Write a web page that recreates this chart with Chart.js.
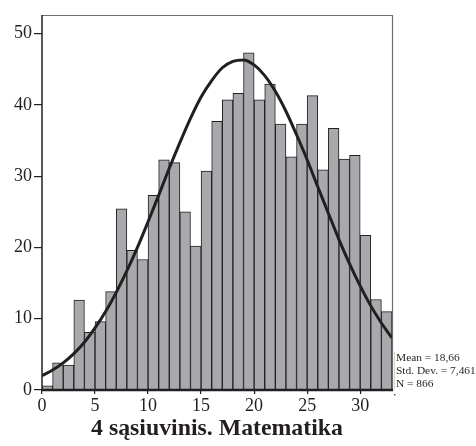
<!DOCTYPE html>
<html>
<head>
<meta charset="utf-8">
<script src="https://cdn.jsdelivr.net/npm/chart.js@4.4.1/dist/chart.umd.min.js"></script>
<style>
html,body{margin:0;padding:0;background:#fff;}
#wrap{width:476px;height:446px;}
</style>
</head>
<body>
<div id="wrap"><canvas id="c" width="476" height="446"></canvas></div>
<script>
// Histogram bins: score k drawn as bar [k, k+1]
const binStarts = [0,1,2,3,4,5,6,7,8,9,10,11,12,13,14,15,16,17,18,19,20,21,22,23,24,25,26,27,28,29,30,31,32];
const frequencies = [0.6,3.8,3.5,12.6,8.1,9.6,13.8,25.4,19.6,18.3,27.3,32.3,31.9,25.0,20.2,30.7,37.7,40.7,41.6,47.3,40.7,42.9,37.3,32.7,37.3,41.3,30.9,36.7,32.4,32.9,21.7,12.7,11.0];
// Normal curve
const curveX = [0,1,2,3,4,5,6,7,8,9,10,11,12,13,14,15,16,17,18,19,20,21,22,23,24,25,26,27,28,29,30,31,32,33];
const curveY = [2.0,2.8,3.8,5.1,6.7,8.7,11.0,13.7,16.7,20.0,23.6,27.3,31.1,34.7,38.1,41.1,43.4,45.2,46.1,46.3,45.6,44.1,41.9,39.1,35.8,32.3,28.5,24.8,21.1,17.7,14.6,11.8,9.4,7.3];
const xTicks = [0,5,10,15,20,25,30];
const yTicks = [0,10,20,30,40,50];
const titleText = "4 sąsiuvinis. Matematika";
const statsLines = ["Mean = 18,66", "Std. Dev. = 7,461", "N = 866"];

const SERIF = '"Liberation Serif", "Times New Roman", serif';

const framePlugin = {
  id: 'frame',
  afterDatasetsDraw(chart) {
    const {ctx, chartArea: a} = chart;
    ctx.save();
    ctx.strokeStyle = '#6d6e70';
    ctx.lineWidth = 1.2;
    ctx.beginPath();
    ctx.moveTo(a.left, a.top + 0.5);
    ctx.lineTo(a.right + 0.5, a.top + 0.5);
    ctx.lineTo(a.right + 0.5, a.bottom);
    ctx.stroke();
    ctx.strokeStyle = '#231f20';
    ctx.lineWidth = 1.5;
    ctx.beginPath();
    ctx.moveTo(a.left, a.top);
    ctx.lineTo(a.left, a.bottom);
    ctx.stroke();
    ctx.lineWidth = 2.4;
    ctx.beginPath();
    ctx.moveTo(a.left - 1, a.bottom);
    ctx.lineTo(a.right + 1, a.bottom);
    ctx.stroke();
    ctx.restore();
  },
  afterDraw(chart) {
    const {ctx, chartArea: a} = chart;
    ctx.save();
    ctx.fillStyle = '#231f20';
    ctx.font = 'bold 23.8px ' + SERIF;
    ctx.textAlign = 'center';
    ctx.textBaseline = 'alphabetic';
    ctx.fillText(titleText, (a.left + a.right) / 2, 435);
    ctx.font = '11.4px ' + SERIF;
    ctx.textAlign = 'left';
    statsLines.forEach((t, i) => ctx.fillText(t, a.right + 4, 360.5 + i * 13));
    ctx.strokeStyle = '#d8d4c8';
    ctx.lineWidth = 1;
    ctx.beginPath();
    ctx.moveTo(a.right + 2.5, 352);
    ctx.lineTo(a.right + 2.5, 390);
    ctx.stroke();
    ctx.fillStyle = '#555';
    ctx.fillRect(a.right + 2, 394, 1.5, 1.5);
    ctx.restore();
  }
};

new Chart(document.getElementById('c'), {
  type: 'bar',
  data: {
    datasets: [
      {
        type: 'line',
        data: curveX.map((x, i) => ({x: x, y: curveY[i]})),
        borderColor: '#231f20',
        borderWidth: 3,
        pointRadius: 0,
        tension: 0.4,
        cubicInterpolationMode: 'monotone',
        fill: false,
        order: 0
      },
      {
        type: 'bar',
        data: binStarts.map((x, i) => ({x: x + 0.5, y: frequencies[i]})),
        backgroundColor: '#a7a9ac',
        borderColor: '#231f20',
        borderWidth: 1,
        borderSkipped: 'start',
        barPercentage: 1,
        categoryPercentage: 1,
        order: 1
      }
    ]
  },
  options: {
    responsive: false,
    animation: false,
    devicePixelRatio: 1,
    layout: {padding: {left: 0, top: 15, right: 84, bottom: 26}},
    plugins: {legend: {display: false}, tooltip: {enabled: false}, title: {display: false}},
    scales: {
      x: {
        type: 'linear',
        min: 0,
        max: 33,
        offset: false,
        afterBuildTicks: s => { s.ticks = xTicks.map(v => ({value: v})); },
        afterFit: s => { s.height = 30; },
        grid: {offset: false, drawOnChartArea: false, drawTicks: true, tickLength: 4, color: '#231f20', lineWidth: 1.2},
        border: {display: false},
        ticks: {font: {family: SERIF, size: 18}, color: '#231f20', padding: 1, maxRotation: 0, autoSkip: false}
      },
      y: {
        min: 0,
        max: 52.6,
        afterBuildTicks: s => { s.ticks = yTicks.map(v => ({value: v})); },
        afterFit: s => { s.width = 42; },
        grid: {drawOnChartArea: false, drawTicks: true, tickLength: 8, color: '#231f20', lineWidth: 1.2},
        border: {display: false},
        ticks: {font: {family: SERIF, size: 18}, color: '#231f20', padding: 2}
      }
    }
  },
  plugins: [framePlugin]
});
</script>
</body>
</html>
